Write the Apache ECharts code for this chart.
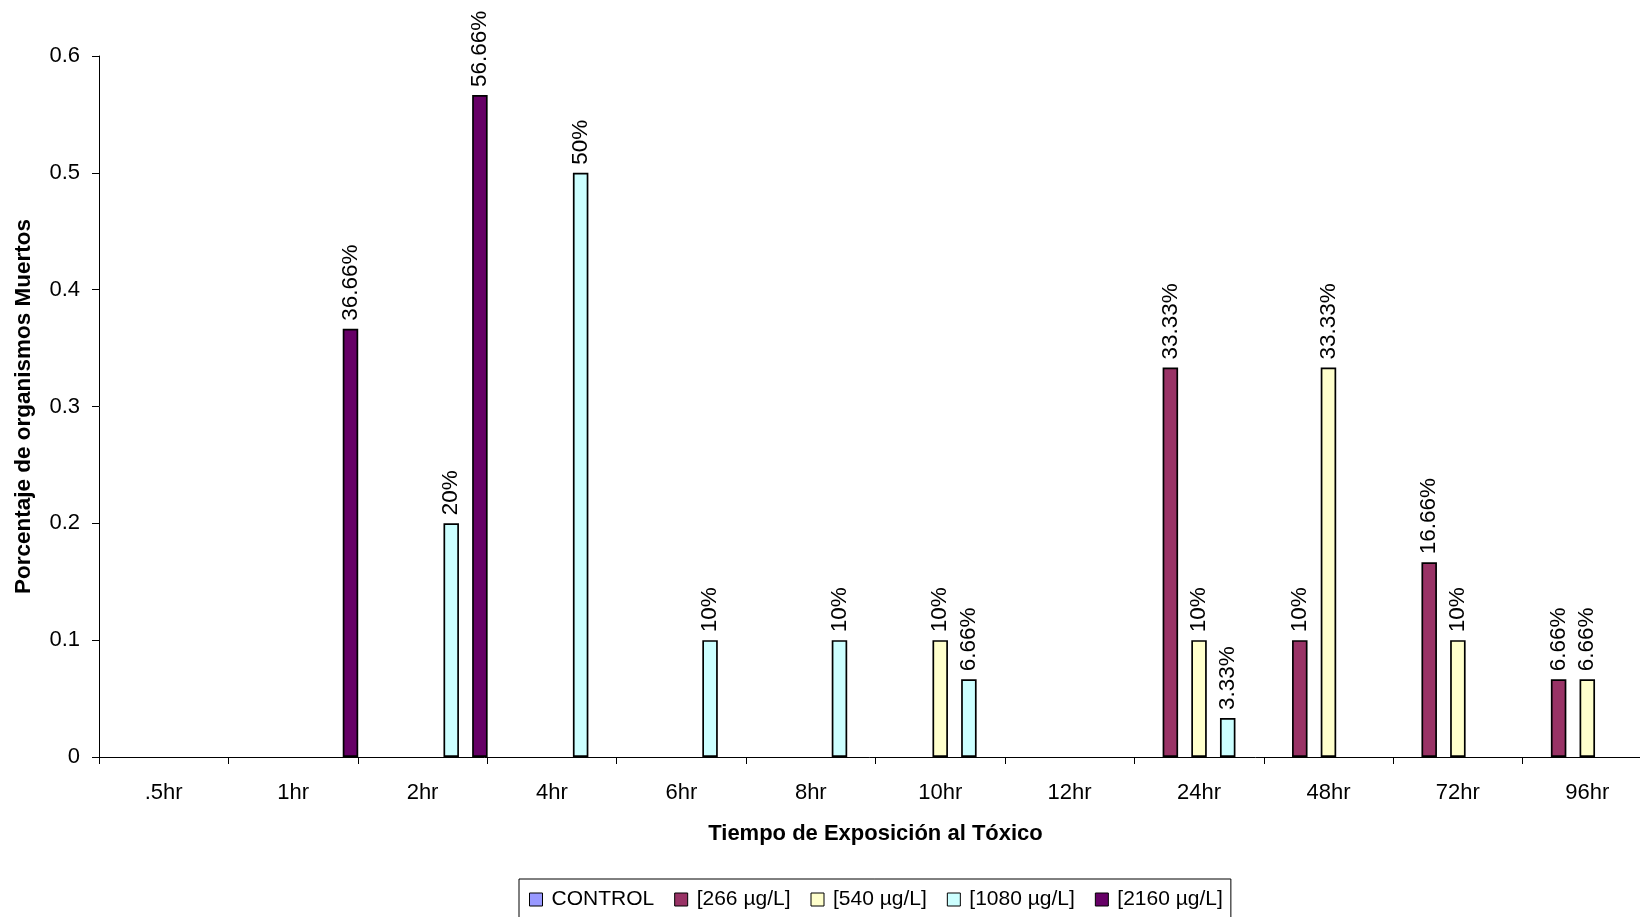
<!DOCTYPE html>
<html>
<head>
<meta charset="utf-8">
<title>Porcentaje de organismos muertos</title>
<script src="https://cdn.jsdelivr.net/npm/echarts@6/dist/echarts.min.js"></script>
<style>
  html, body { margin: 0; padding: 0; background: #ffffff; }
  #chart { width: 1640px; height: 917px; }
</style>
</head>
<body>
<div id="chart"></div>
<script>
// Exposure times (category axis)
const categories = ['.5hr', '1hr', '2hr', '4hr', '6hr', '8hr', '10hr', '12hr', '24hr', '48hr', '72hr', '96hr'];

// Fraction of dead organisms per concentration (null = no bar)
const control  = [null, null, null, null, null, null, null, null, null, null, null, null];
const c266     = [null, null, null, null, null, null, null, null, 0.3333, 0.1, 0.1666, 0.0666];
const c540     = [null, null, null, null, null, null, 0.1, null, 0.1, 0.3333, 0.1, 0.0666];
const c1080    = [null, null, 0.2, 0.5, 0.1, 0.1, 0.0666, null, 0.0333, null, null, null];
const c2160    = [null, 0.3666, 0.5666, null, null, null, null, null, null, null, null, null];

const seriesNames = ['CONTROL', '[266 µg/L]', '[540 µg/L]', '[1080 µg/L]', '[2160 µg/L]'];
const seriesData = [control, c266, c540, c1080, c2160];
const seriesColors = ['#9999FF', '#993366', '#FFFFCC', '#CCFFFF', '#660066'];

// Y axis ticks
const yMin = 0, yMax = 0.6, yStep = 0.1;

const FONT = '"Liberation Sans", Arial, Helvetica, sans-serif';

const chart = echarts.init(document.getElementById('chart'), null, { renderer: 'canvas' });

const series = seriesNames.map((name, i) => ({
  name: name,
  type: 'bar',
  data: seriesData[i],
  barWidth: 15.5,
  barGap: '85%',
  itemStyle: {
    color: seriesColors[i],
    borderColor: '#000000',
    borderWidth: 1.7
  },
  label: {
    show: true,
    position: 'top',
    rotate: 90,
    align: 'left',
    verticalAlign: 'middle',
    distance: 8,
    color: '#000000',
    fontFamily: FONT,
    fontSize: 22.5,
    formatter: p => (p.value == null ? '' : (+(p.value * 100).toFixed(2)) + '%')
  },
  emphasis: { disabled: true },
  animation: false
}));

chart.setOption({
  backgroundColor: '#ffffff',
  animation: false,
  textStyle: { fontFamily: FONT },
  grid: {
    left: 99,
    top: 56,
    width: 1553,
    height: 701,
    containLabel: false,
    outerBoundsMode: 'none'
  },
  legend: {
    data: seriesNames,
    left: 519,
    top: 879,
    width: 740,
    orient: 'horizontal',
    itemWidth: 13,
    itemHeight: 13,
    itemGap: 20,
    padding: [10, 8, 10, 10],
    borderColor: '#000000',
    borderWidth: 1,
    borderRadius: 0,
    icon: 'rect',
    itemStyle: { borderColor: '#000000', borderWidth: 1 },
    textStyle: {
      color: '#000000',
      fontFamily: FONT,
      fontSize: 21,
      padding: [0, 0, 0, 4]
    },
    selectedMode: false
  },
  xAxis: {
    type: 'category',
    data: categories,
    boundaryGap: true,
    name: 'Tiempo de Exposición al Tóxico',
    nameLocation: 'middle',
    nameGap: 66,
    nameTextStyle: {
      color: '#000000',
      fontFamily: FONT,
      fontSize: 22,
      fontWeight: 'bold'
    },
    axisLine: { show: true, lineStyle: { color: '#000000', width: 1 } },
    axisTick: { show: true, alignWithLabel: false, length: 7, lineStyle: { color: '#000000' } },
    axisLabel: {
      color: '#000000',
      fontFamily: FONT,
      fontSize: 22,
      margin: 25
    },
    splitLine: { show: false }
  },
  yAxis: {
    type: 'value',
    min: yMin,
    max: yMax,
    interval: yStep,
    name: 'Porcentaje de organismos Muertos',
    nameLocation: 'middle',
    nameGap: 64,
    nameTextStyle: {
      color: '#000000',
      fontFamily: FONT,
      fontSize: 22.5,
      fontWeight: 'bold'
    },
    axisLine: { show: true, lineStyle: { color: '#000000', width: 1 } },
    axisTick: { show: true, length: 7, lineStyle: { color: '#000000' } },
    axisLabel: {
      color: '#000000',
      fontFamily: FONT,
      fontSize: 22,
      margin: 19,
      formatter: v => String(+v.toFixed(1))
    },
    splitLine: { show: false }
  },
  series: series
});
</script>
</body>
</html>
